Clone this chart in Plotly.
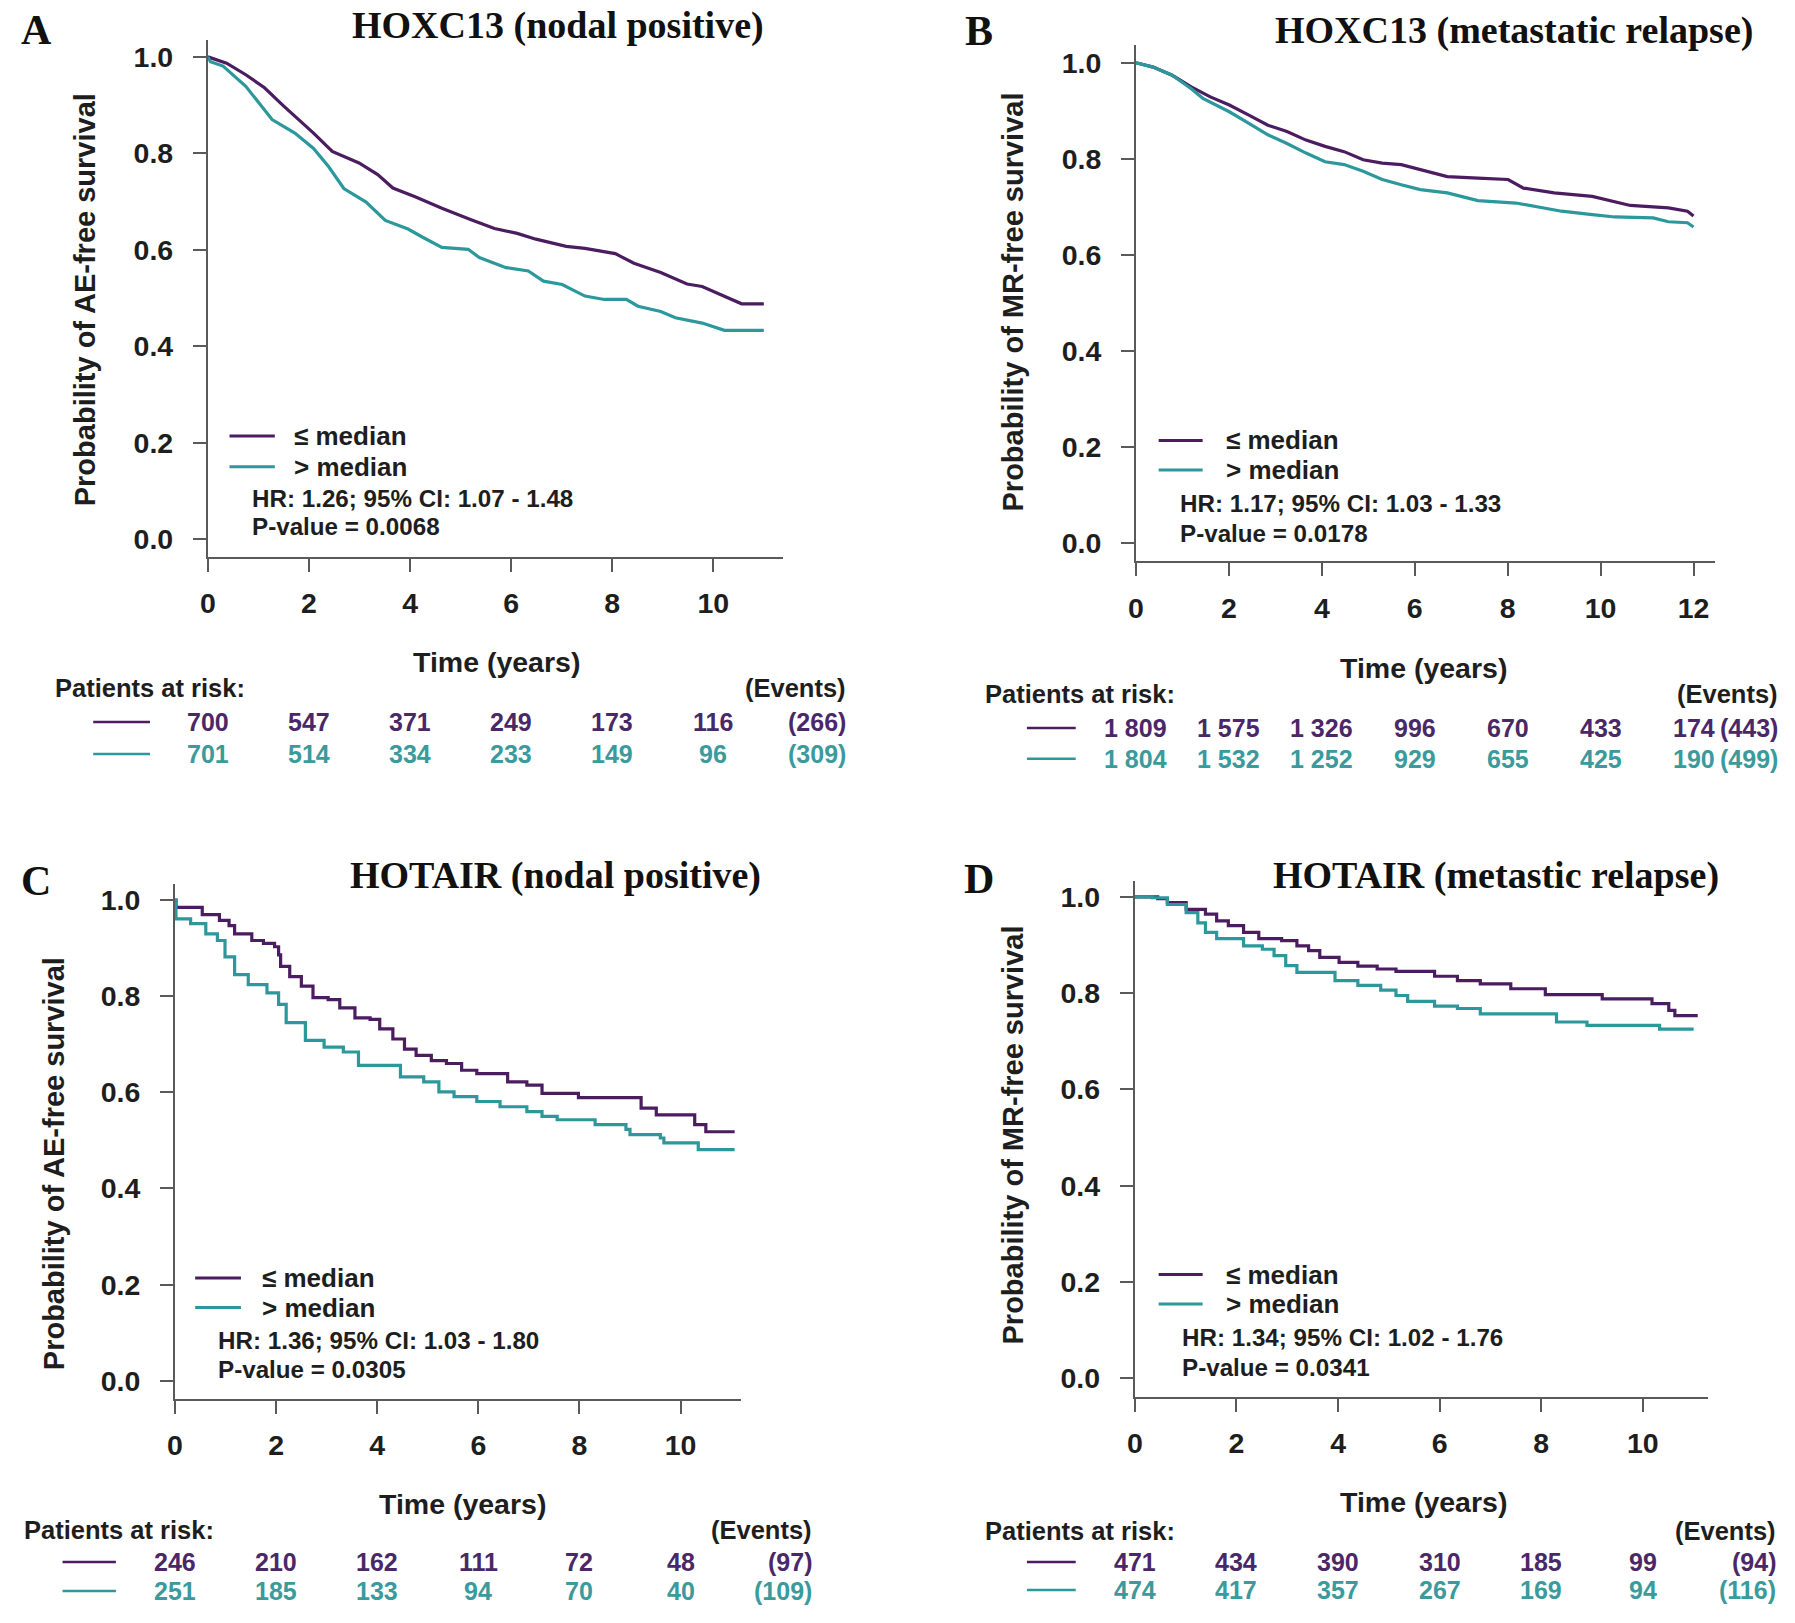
import plotly.graph_objects as go

W, H = 1795, 1623

# ---------------- data ----------------
# Panel A: HOXC13 (nodal positive), AE-free survival
a_low_t = [0, 0.37, 0.75, 1.12, 1.49, 1.87, 2.09, 2.46, 2.99, 3.36, 3.66, 4.10, 4.63, 5.22, 5.67,
           6.12, 6.49, 7.09, 7.46, 8.06, 8.43, 8.96, 9.48, 9.78, 10.22, 10.56, 11.0]
a_low_s = [1.0, 0.987, 0.963, 0.936, 0.899, 0.864, 0.842, 0.804, 0.780, 0.756, 0.728, 0.710, 0.686,
           0.662, 0.644, 0.634, 0.622, 0.607, 0.603, 0.592, 0.572, 0.553, 0.529, 0.524, 0.503, 0.488, 0.488]
a_high_t = [0, 0.05, 0.30, 0.75, 1.27, 1.72, 2.09, 2.39, 2.69, 3.13, 3.51, 3.96, 4.25, 4.63, 5.15,
            5.37, 5.90, 6.34, 6.64, 7.01, 7.46, 7.84, 8.28, 8.51, 8.96, 9.25, 9.78, 10.22, 11.0]
a_high_s = [1.0, 0.99, 0.981, 0.939, 0.870, 0.842, 0.810, 0.772, 0.727, 0.699, 0.661, 0.643, 0.626,
            0.605, 0.601, 0.584, 0.563, 0.556, 0.535, 0.528, 0.504, 0.497, 0.497, 0.483, 0.472, 0.459,
            0.448, 0.433, 0.433]
a_risk_low = ["700", "547", "371", "249", "173", "116"]
a_risk_high = ["701", "514", "334", "233", "149", "96"]
a_events = ["(266)", "(309)"]
a_stats = ["HR: 1.26; 95% CI: 1.07 - 1.48", "P-value = 0.0068"]

# Panel B: HOXC13 (metastatic relapse), MR-free survival
b_low_t = [0, 0.37, 0.78, 1.19, 1.60, 2.01, 2.43, 2.84, 3.25, 3.66, 4.07, 4.48, 4.89, 5.30, 5.71,
           6.12, 6.70, 7.36, 8.01, 8.34, 9.0, 9.82, 10.23, 10.64, 11.46, 11.87, 12.0]
b_low_s = [1.0, 0.991, 0.974, 0.950, 0.929, 0.912, 0.891, 0.870, 0.857, 0.839, 0.826, 0.815, 0.798,
           0.791, 0.788, 0.777, 0.763, 0.760, 0.757, 0.739, 0.729, 0.722, 0.712, 0.703, 0.698, 0.691, 0.681]
b_high_t = [0, 0.37, 0.78, 1.19, 1.44, 2.01, 2.43, 2.84, 3.25, 3.66, 4.07, 4.48, 4.89, 5.30, 5.71,
            6.12, 6.70, 7.36, 8.18, 8.59, 9.16, 9.82, 10.31, 11.13, 11.46, 11.87, 12.0]
b_high_s = [1.0, 0.991, 0.974, 0.946, 0.926, 0.898, 0.874, 0.850, 0.832, 0.812, 0.794, 0.788, 0.774,
            0.757, 0.746, 0.736, 0.729, 0.713, 0.708, 0.701, 0.691, 0.684, 0.679, 0.677, 0.669, 0.667, 0.658]
b_risk_low = ["1 809", "1 575", "1 326", "996", "670", "433", "174"]
b_risk_high = ["1 804", "1 532", "1 252", "929", "655", "425", "190"]
b_events = ["(443)", "(499)"]
b_stats = ["HR: 1.17; 95% CI: 1.03 - 1.33", "P-value = 0.0178"]

# Panel C: HOTAIR (nodal positive), AE-free survival
c_low_t = [0, 0.02, 0.54, 0.88, 1.07, 1.18, 1.52, 1.75, 1.97, 2.05, 2.09, 2.27, 2.50, 2.73, 3.03,
           3.26, 3.56, 3.86, 4.05, 4.31, 4.54, 4.77, 5.07, 5.37, 5.67, 5.97, 6.58, 6.96, 7.26, 7.98,
           9.22, 9.52, 10.28, 10.50, 11.07]
c_low_s = [1.0, 0.985, 0.970, 0.958, 0.947, 0.930, 0.916, 0.910, 0.903, 0.886, 0.862, 0.841, 0.821,
           0.797, 0.793, 0.776, 0.755, 0.752, 0.732, 0.711, 0.690, 0.677, 0.666, 0.660, 0.646, 0.639,
           0.622, 0.615, 0.598, 0.589, 0.567, 0.553, 0.533, 0.518, 0.518]
c_high_t = [0, 0.02, 0.31, 0.61, 0.84, 0.99, 1.18, 1.45, 1.82, 2.05, 2.20, 2.58, 2.95, 3.33, 3.63,
            4.46, 4.92, 5.22, 5.52, 5.97, 6.43, 6.96, 7.26, 7.56, 8.31, 8.92, 9.0, 9.60, 9.67, 10.35, 11.07]
c_high_s = [1.0, 0.961, 0.951, 0.930, 0.916, 0.882, 0.845, 0.824, 0.807, 0.783, 0.745, 0.708, 0.694,
            0.684, 0.656, 0.632, 0.622, 0.601, 0.591, 0.581, 0.570, 0.560, 0.550, 0.543, 0.533, 0.523,
            0.512, 0.505, 0.495, 0.481, 0.481]
c_risk_low = ["246", "210", "162", "111", "72", "48"]
c_risk_high = ["251", "185", "133", "94", "70", "40"]
c_events = ["(97)", "(109)"]
c_stats = ["HR: 1.36; 95% CI: 1.03 - 1.80", "P-value = 0.0305"]

# Panel D: HOTAIR (metastic relapse), MR-free survival
d_low_t = [0, 0.45, 0.64, 1.01, 1.39, 1.61, 1.84, 2.14, 2.44, 2.89, 3.19, 3.42, 3.64, 4.02, 4.39,
           4.77, 5.14, 5.90, 6.35, 6.80, 7.40, 8.08, 9.20, 10.18, 10.51, 10.63, 11.08]
d_low_s = [1.0, 0.996, 0.988, 0.974, 0.964, 0.950, 0.940, 0.926, 0.913, 0.909, 0.898, 0.888, 0.874,
           0.864, 0.856, 0.850, 0.845, 0.835, 0.826, 0.819, 0.809, 0.797, 0.788, 0.778, 0.764, 0.753, 0.753]
d_high_t = [0, 0.34, 0.64, 1.01, 1.24, 1.39, 1.61, 2.14, 2.51, 2.74, 2.97, 3.19, 3.94, 4.39, 4.84,
            5.14, 5.37, 5.90, 6.35, 6.80, 8.30, 8.90, 10.33, 11.0]
d_high_s = [1.0, 0.998, 0.984, 0.967, 0.946, 0.926, 0.913, 0.898, 0.891, 0.878, 0.857, 0.843, 0.826,
            0.816, 0.806, 0.795, 0.783, 0.773, 0.768, 0.757, 0.740, 0.733, 0.725, 0.725]
d_risk_low = ["471", "434", "390", "310", "185", "99"]
d_risk_high = ["474", "417", "357", "267", "169", "94"]
d_events = ["(94)", "(116)"]
d_stats = ["HR: 1.34; 95% CI: 1.02 - 1.76", "P-value = 0.0341"]

titles = ["HOXC13 (nodal positive)", "HOXC13 (metastatic relapse)",
          "HOTAIR (nodal positive)", "HOTAIR (metastic relapse)"]
letters = ["A", "B", "C", "D"]
ytitles = ["Probability of AE-free survival", "Probability of MR-free survival",
           "Probability of AE-free survival", "Probability of MR-free survival"]
group_labels = ["\u2264 median", "> median"]
y_ticks = [0.0, 0.2, 0.4, 0.6, 0.8, 1.0]
x_ticks_11 = [0, 2, 4, 6, 8, 10]
x_ticks_12 = [0, 2, 4, 6, 8, 10, 12]

# ---------------- style / layout ----------------
PURPLE = "#4B1D60"
TEAL = "#2C989C"
PURPLE_TXT = "#4A2868"
TEAL_TXT = "#3A9A9C"
AXIS = "#5a5a5a"
TXT = "#1e1e1e"
SANS = "Liberation Sans, Arial, sans-serif"
SERIF = "Liberation Serif, Times New Roman, serif"


def fx(x):
    return x / W


def fy(y):
    return 1 - y / H


panels = [
    dict(L=200.8, R=778, T=40, B=557, xmax=11.37, ymin=-0.037, ymax=1.035, shape="linear",
         data=(a_low_t, a_low_s, a_high_t, a_high_s), xt=x_ticks_11,
         risk=(a_risk_low, a_risk_high), ev=a_events, stats=a_stats,
         title=(552, 25), letter=(29, 30), ytit=(77.6, 300), tx=(490.6, 662), par=(45.6, 688), evr=844,
         rows=(722, 754), rowline=(85.6, 142.6), leg=(222.5, 268, 285, 436, 466.7), st=(243, 498.6, 527)),
    dict(L=1133, R=1715, T=45, B=561.4, xmax=12.47, ymin=-0.038, ymax=1.037, shape="linear",
         data=(b_low_t, b_low_s, b_high_t, b_high_s), xt=x_ticks_12,
         risk=(b_risk_low, b_risk_high), ev=b_events, stats=b_stats,
         title=(1513, 31), letter=(975.5, 31), ytit=(1010, 302), tx=(1421.7, 667.5), par=(979, 693.7),
         evr=1780, rows=(728, 758.7), rowline=(1023.5, 1072.5), leg=(1155.8, 1200, 1221, 440.4, 470),
         st=(1175, 503, 534)),
    dict(L=167.7, R=736, T=884.3, B=1398.9, xmax=11.19, ymin=-0.038, ymax=1.033, shape="hv",
         data=(c_low_t, c_low_s, c_high_t, c_high_s), xt=x_ticks_11,
         risk=(c_risk_low, c_risk_high), ev=c_events, stats=c_stats,
         title=(550, 876), letter=(28.5, 881), ytit=(45.6, 1163.8), tx=(456.4, 1503.8), par=(13.7, 1530),
         evr=810, rows=(1562, 1591), rowline=(54.8, 108.4), leg=(188, 234, 253, 1278, 1307.6),
         st=(208.8, 1340.7, 1369)),
    dict(L=1131.9, R=1708, T=880.9, B=1396.6, xmax=11.29, ymin=-0.038, ymax=1.033, shape="hv",
         data=(d_low_t, d_low_s, d_high_t, d_high_s), xt=x_ticks_11,
         risk=(d_risk_low, d_risk_high), ev=d_events, stats=d_stats,
         title=(1494.7, 876), letter=(975.5, 878.6), ytit=(1010, 1135), tx=(1421.7, 1501.6), par=(979, 1531),
         evr=1778, rows=(1562, 1590), rowline=(1023.5, 1072.5), leg=(1155.8, 1200, 1221, 1274.5, 1304),
         st=(1177.5, 1337, 1367)),
]

fig = go.Figure()
annotations = []
shapes = []
layout_axes = {}

for i, p in enumerate(panels):
    n = "" if i == 0 else str(i + 1)
    xa, ya = "x" + n, "y" + n
    lt, ls, ht, hs = p["data"]
    fig.add_trace(go.Scatter(x=lt, y=ls, mode="lines", xaxis=xa, yaxis=ya, showlegend=False,
                             line=dict(color=PURPLE, width=3.2, shape=p["shape"]),
                             name=group_labels[0]))
    fig.add_trace(go.Scatter(x=ht, y=hs, mode="lines", xaxis=xa, yaxis=ya, showlegend=False,
                             line=dict(color=TEAL, width=3.2, shape=p["shape"]),
                             name=group_labels[1]))

    tickfont = dict(family=SANS, size=28.5, color=TXT, weight="bold")
    layout_axes["xaxis" + n] = dict(
        domain=[fx(p["L"]), fx(p["R"])], range=[0, p["xmax"]], anchor=ya,
        tickvals=p["xt"], ticktext=[str(v) for v in p["xt"]], ticks="outside", ticklen=13,
        tickwidth=2, tickcolor=AXIS, showline=True, linecolor=AXIS, linewidth=2,
        showgrid=False, zeroline=False, tickfont=tickfont, ticklabelstandoff=7, fixedrange=True)
    layout_axes["yaxis" + n] = dict(
        domain=[fy(p["B"]), fy(p["T"])], range=[p["ymin"], p["ymax"]], anchor=xa,
        tickvals=y_ticks, ticktext=["%.1f" % v for v in y_ticks], ticks="outside", ticklen=13,
        tickwidth=2, tickcolor=AXIS, showline=True, linecolor=AXIS, linewidth=2,
        showgrid=False, zeroline=False, tickfont=tickfont, ticklabelstandoff=14, fixedrange=True)

    # titles and panel letters
    annotations.append(dict(text="<b>%s</b>" % titles[i], x=fx(p["title"][0]), y=fy(p["title"][1]),
                            xref="paper", yref="paper", xanchor="center", yanchor="middle",
                            showarrow=False, font=dict(family=SERIF, size=38, color="#111")))
    annotations.append(dict(text="<b>%s</b>" % letters[i], x=fx(p["letter"][0]), y=fy(p["letter"][1]),
                            xref="paper", yref="paper", xanchor="center", yanchor="middle",
                            showarrow=False, font=dict(family=SERIF, size=42, color="#111")))
    # axis titles
    annotations.append(dict(text="<b>%s</b>" % ytitles[i], x=fx(p["ytit"][0]), y=fy(p["ytit"][1]),
                            xref="paper", yref="paper", xanchor="center", yanchor="middle",
                            textangle=-90, showarrow=False,
                            font=dict(family=SANS, size=29, color=TXT)))
    annotations.append(dict(text="<b>Time (years)</b>", x=fx(p["tx"][0]), y=fy(p["tx"][1]),
                            xref="paper", yref="paper", xanchor="center", yanchor="middle",
                            showarrow=False, font=dict(family=SANS, size=28.5, color=TXT)))
    # risk table header
    annotations.append(dict(text="<b>Patients at risk:</b>", x=fx(p["par"][0]), y=fy(p["par"][1]),
                            xref="paper", yref="paper", xanchor="left", yanchor="middle",
                            showarrow=False, font=dict(family=SANS, size=25.5, color=TXT)))
    annotations.append(dict(text="<b>(Events)</b>", x=fx(p["evr"]), y=fy(p["par"][1]),
                            xref="paper", yref="paper", xanchor="right", yanchor="middle",
                            showarrow=False, font=dict(family=SANS, size=25.5, color=TXT)))
    # risk rows
    for r, (vals, col_txt, col_line) in enumerate(zip(p["risk"], (PURPLE_TXT, TEAL_TXT), (PURPLE, TEAL))):
        yrow = fy(p["rows"][r])
        for t, v in zip(p["xt"], vals):
            annotations.append(dict(text="<b>%s</b>" % v, x=t, y=yrow, xref=xa, yref="paper",
                                    xanchor="center", yanchor="middle", showarrow=False,
                                    font=dict(family=SANS, size=25, color=col_txt)))
        annotations.append(dict(text="<b>%s</b>" % p["ev"][r], x=fx(p["evr"]), y=yrow,
                                xref="paper", yref="paper", xanchor="right", yanchor="middle",
                                showarrow=False, font=dict(family=SANS, size=25, color=col_txt)))
        shapes.append(dict(type="line", xref="paper", yref="paper",
                           x0=fx(p["rowline"][0]), x1=fx(p["rowline"][1]), y0=yrow, y1=yrow,
                           line=dict(color=col_line, width=2.5)))
    # legend (inside plot)
    lx0, lx1, ltx, ly1, ly2 = p["leg"]
    for lab, ly, col in zip(group_labels, (ly1, ly2), (PURPLE, TEAL)):
        shapes.append(dict(type="line", xref="paper", yref="paper", x0=fx(lx0), x1=fx(lx1),
                           y0=fy(ly), y1=fy(ly), line=dict(color=col, width=3)))
        annotations.append(dict(text="<b>%s</b>" % lab, x=fx(ltx), y=fy(ly), xref="paper",
                                yref="paper", xanchor="left", yanchor="middle", showarrow=False,
                                font=dict(family=SANS, size=26, color=TXT)))
    sx, sy1, sy2 = p["st"]
    for txt, sy in zip(p["stats"], (sy1, sy2)):
        annotations.append(dict(text="<b>%s</b>" % txt, x=fx(sx), y=fy(sy), xref="paper",
                                yref="paper", xanchor="left", yanchor="middle", showarrow=False,
                                font=dict(family=SANS, size=24.2, color=TXT)))

fig.update_layout(
    width=W, height=H, margin=dict(l=0, r=0, t=0, b=0),
    paper_bgcolor="white", plot_bgcolor="white",
    annotations=annotations, shapes=shapes, showlegend=False,
    **layout_axes,
)

fig.write_html("out.html", config={"displayModeBar": False},
               post_script="document.body.style.margin='0px';document.body.style.padding='0px';"
                           "document.body.style.overflow='hidden';")
